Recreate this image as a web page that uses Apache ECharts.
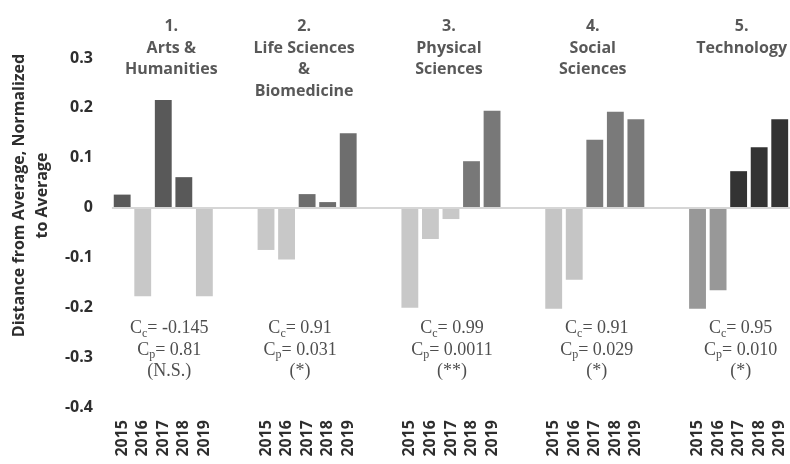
<!DOCTYPE html>
<html>
<head>
<meta charset="utf-8">
<script src="https://cdn.jsdelivr.net/npm/echarts@6/dist/echarts.min.js"></script>
<style>
  html, body { margin: 0; padding: 0; background: #fff; }
  #chart { width: 790px; height: 464px; }
</style>
</head>
<body>
<div id="chart"></div>
<script>
// Years shown within every research field
const years = ['2015', '2016', '2017', '2018', '2019'];

// Research fields (group headings)
const fields = [
  '1.\nArts &\nHumanities',
  '2.\nLife Sciences\n&\nBiomedicine',
  '3.\nPhysical\nSciences',
  '4.\nSocial\nSciences',
  '5.\nTechnology'
];

// Distance from average, normalized to average, per year
const artsHumanities   = [0.026, -0.178, 0.216, 0.061, -0.178];
const lifeSciences     = [-0.085, -0.104, 0.027, 0.011, 0.149];
const physicalSciences = [-0.201, -0.063, -0.023, 0.093, 0.194];
const socialSciences   = [-0.203, -0.145, 0.136, 0.192, 0.177];
const technology       = [-0.203, -0.166, 0.073, 0.121, 0.177];

// Correlation statistics per field
const corrCoef     = ['-0.145', '0.91', '0.99', '0.91', '0.95'];
const pValues      = ['0.81', '0.031', '0.0011', '0.029', '0.010'];
const significance = ['(N.S.)', '(*)', '(**)', '(*)', '(*)'];

// Value axis ticks
const yTicks = [-0.4, -0.3, -0.2, -0.1, 0, 0.1, 0.2, 0.3];

const fieldValues = [artsHumanities, lifeSciences, physicalSciences, socialSciences, technology];

// Bar shades per field: [above zero, below zero]
const shades = [
  ['#595959', '#c8c8c8'],
  ['#6e6e6e', '#c8c8c8'],
  ['#787878', '#c8c8c8'],
  ['#7a7a7a', '#c5c5c5'],
  ['#333333', '#989898']
];
const GAP_SLOTS = 2;
const titleShift = [8, -3, -2, -2, 3];
const noteShift = [6, -7, 1, 2, 2];

const FONT = '"Open Sans", Lato, sans-serif';
const SERIF = '"Liberation Serif", "DejaVu Serif", serif';
const TEXT = '#2e2e2e';

// Build the flat category axis with empty slots between fields
const categories = [];
const barData = [];
const centers = [];
fieldValues.forEach((vals, g) => {
  const start = categories.length;
  years.forEach((y, i) => {
    categories.push(y);
    const v = vals[i];
    barData.push({ value: v, itemStyle: { color: v >= 0 ? shades[g][0] : shades[g][1] } });
  });
  centers.push(start + Math.floor(years.length / 2));
  if (g < fieldValues.length - 1) {
    for (let k = 0; k < GAP_SLOTS; k++) {
      categories.push('');
      barData.push('-');
    }
  }
});

const headData = fields.map((f, g) => ({
  value: [centers[g], 0.384],
  label: { formatter: f, offset: [titleShift[g], 0] }
}));

const noteData = corrCoef.map((c, g) => ({
  value: [centers[g], -0.286],
  label: {
    formatter: 'C{s|c}= ' + c + '\nC{s|p}= ' + pValues[g] + '\n' + significance[g],
    offset: [noteShift[g], 0]
  }
}));

const chart = echarts.init(document.getElementById('chart'), null, { renderer: 'canvas' });

chart.setOption({
  animation: false,
  backgroundColor: '#ffffff',
  grid: { left: 111, top: 58, width: 680, bottom: 57, containLabel: false },
  xAxis: {
    type: 'category',
    data: categories,
    boundaryGap: true,
    axisLine: { show: false },
    axisTick: { show: false },
    axisLabel: {
      interval: 0,
      rotate: 90,
      margin: 13,
      fontFamily: FONT,
      fontWeight: 'bold',
      fontSize: 16,
      color: TEXT
    }
  },
  yAxis: {
    type: 'value',
    min: yTicks[0],
    max: yTicks[yTicks.length - 1],
    interval: 0.1,
    splitLine: { show: false },
    axisLine: { show: false },
    axisTick: { show: false },
    axisLabel: {
      margin: 19,
      fontFamily: FONT,
      fontWeight: 'bold',
      fontSize: 16,
      color: TEXT,
      formatter: v => String(+v.toFixed(1))
    },
    name: 'Distance from Average, Normalized\nto Average',
    nameLocation: 'middle',
    nameGap: 57,
    nameTextStyle: {
      fontFamily: FONT,
      fontWeight: 'bold',
      fontSize: 16,
      lineHeight: 23,
      color: TEXT,
      padding: [0, 0, 0, 74]
    }
  },
  series: [
    {
      type: 'bar',
      data: barData,
      barCategoryGap: '18%',
      markLine: {
        silent: true,
        symbol: 'none',
        label: { show: false },
        lineStyle: { color: '#d6d6d6', width: 2, type: 'solid' },
        data: [{ yAxis: 0 }]
      }
    },
    {
      type: 'scatter',
      symbolSize: 0,
      clip: false,
      silent: true,
      data: headData,
      label: {
        show: true,
        position: 'bottom',
        distance: 0,
        align: 'center',
        fontFamily: FONT,
        fontWeight: 'bold',
        fontSize: 16,
        lineHeight: 21.5,
        color: TEXT
      }
    },
    {
      type: 'scatter',
      symbolSize: 0,
      clip: false,
      silent: true,
      data: noteData,
      label: {
        show: true,
        position: 'inside',
        align: 'center',
        verticalAlign: 'middle',
        fontFamily: SERIF,
        fontSize: 18,
        lineHeight: 21.5,
        color: '#222222',
        rich: {
          s: {
            fontFamily: SERIF,
            fontSize: 12,
            lineHeight: 21.5,
            verticalAlign: 'bottom',
            color: '#222222'
          }
        }
      }
    }
  ]
});
</script>
</body>
</html>
